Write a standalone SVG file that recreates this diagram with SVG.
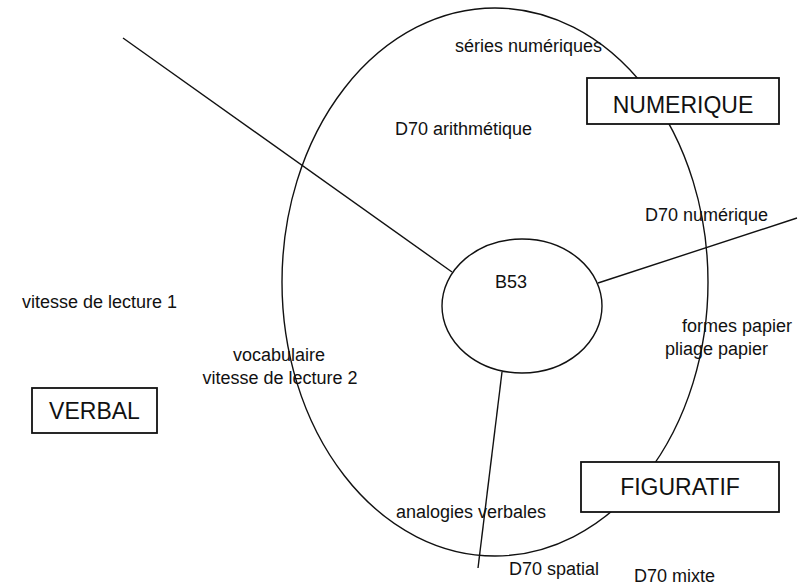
<svg xmlns="http://www.w3.org/2000/svg" width="807" height="585" viewBox="0 0 807 585">
<style>
  .ln { fill: none; stroke: #111; stroke-width: 1.4; }
  .box { fill: #fff; stroke: #111; stroke-width: 1.8; }
  .t { font-family: "Liberation Sans", Arial, sans-serif; font-size: 18px; fill: #111; }
  .bt { font-family: "Liberation Sans", Arial, sans-serif; font-size: 23px; fill: #111; }
</style>
<rect width="807" height="585" fill="#fff"/>
<g id="connectors">
  <line class="ln" x1="123" y1="38" x2="452" y2="272"/>
  <line class="ln" x1="598" y1="283" x2="797" y2="218"/>
  <line class="ln" x1="502" y1="372" x2="478" y2="568"/>
</g>
<g id="outer-ellipse">
  <ellipse class="ln" cx="495" cy="282" rx="213" ry="274"/>
</g>
<g id="B53">
  <ellipse class="ln" cx="522" cy="306" rx="80" ry="67"/>
  <text class="t" x="495" y="288">B53</text>
</g>
<g id="NUMERIQUE">
  <rect class="box" x="587" y="78" width="192" height="46"/>
  <text class="bt" x="683" y="113" text-anchor="middle">NUMERIQUE</text>
</g>
<g id="VERBAL">
  <rect class="box" x="32" y="388" width="125" height="45"/>
  <text class="bt" x="94.5" y="419" text-anchor="middle">VERBAL</text>
</g>
<g id="FIGURATIF">
  <rect class="box" x="581" y="462" width="198" height="50"/>
  <text class="bt" x="680" y="495" text-anchor="middle">FIGURATIF</text>
</g>
<g id="series-numeriques"><text class="t" x="455" y="52">séries numériques</text></g>
<g id="D70-arithmetique"><text class="t" x="395" y="135">D70 arithmétique</text></g>
<g id="D70-numerique"><text class="t" x="645" y="221">D70 numérique</text></g>
<g id="vitesse-lecture-1"><text class="t" x="22" y="308">vitesse de lecture 1</text></g>
<g id="vocabulaire"><text class="t" x="279" y="361" text-anchor="middle">vocabulaire</text></g>
<g id="vitesse-lecture-2"><text class="t" x="280" y="384" text-anchor="middle">vitesse de lecture 2</text></g>
<g id="formes-papier"><text class="t" x="682" y="332">formes papier</text></g>
<g id="pliage-papier"><text class="t" x="665" y="355">pliage papier</text></g>
<g id="analogies-verbales"><text class="t" x="396" y="518">analogies verbales</text></g>
<g id="D70-spatial"><text class="t" x="509" y="575">D70 spatial</text></g>
<g id="D70-mixte"><text class="t" x="634" y="582">D70 mixte</text></g>
</svg>
